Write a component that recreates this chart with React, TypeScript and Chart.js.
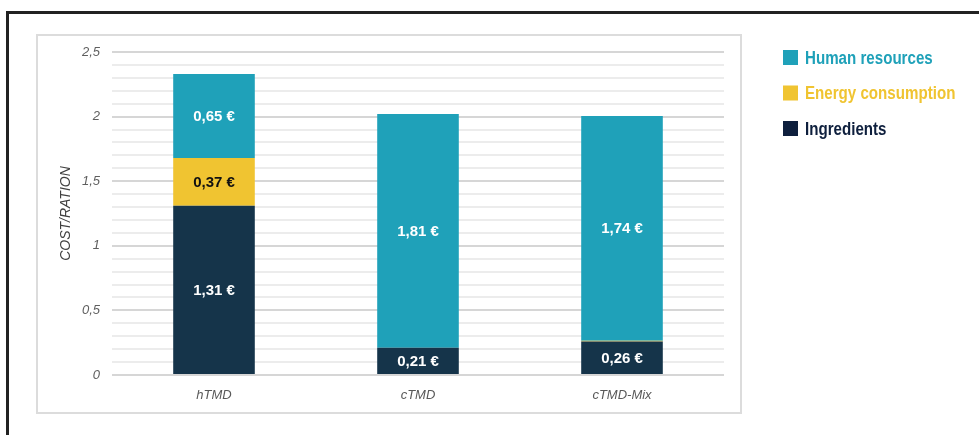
import React, { useEffect, useRef } from "react";
import Chart from "chart.js/auto";

const categories = ["hTMD", "cTMD", "cTMD-Mix"];
const ingredients = [1.31, 0.21, 0.26];
const energyConsumption = [0.37, 0, 0.005];
const humanResources = [0.65, 1.81, 1.74];
const yMajorTicks = [0, 0.5, 1, 1.5, 2, 2.5];
const yAxisTitle = "COST/RATION";

const COLORS = {
  ingredients: "#15344a",
  energy: "#f0c431",
  human: "#1fa1b9",
};

const isMajor = (v: number) => yMajorTicks.some((t) => Math.abs(t - v) < 1e-6);
const fmt = (v: number) => String(v).replace(".", ",");

const valueLabels = {
  id: "valueLabels",
  afterDatasetsDraw(chart: any) {
    const ctx = chart.ctx;
    ctx.save();
    ctx.font = "bold 15px 'Liberation Sans', Arial, sans-serif";
    ctx.textAlign = "center";
    ctx.textBaseline = "middle";
    chart.data.datasets.forEach((ds: any, di: number) => {
      const meta = chart.getDatasetMeta(di);
      meta.data.forEach((el: any, i: number) => {
        const v = ds.data[i];
        if (v < 0.1) return;
        ctx.fillStyle = ds.labelColor || "#fff";
        ctx.fillText(v.toFixed(2).replace(".", ",") + " €", el.x, (el.y + el.base) / 2 + 1);
      });
    });
    ctx.restore();
  },
};

const customLegend = {
  id: "customLegend",
  afterDraw(chart: any) {
    const ctx = chart.ctx;
    ctx.save();
    ctx.font = "bold 18px 'Liberation Sans', Arial, sans-serif";
    ctx.textAlign = "left";
    ctx.textBaseline = "middle";
    const ds = [...chart.data.datasets].reverse();
    ds.forEach((d: any, i: number) => {
      const cy = 58 + i * 35.5;
      ctx.fillStyle = d.legendColor || d.backgroundColor;
      ctx.fillRect(783, cy - 8, 15, 15);
      ctx.save();
      ctx.translate(805, cy + 1);
      ctx.scale(0.84, 1);
      ctx.fillText(d.label, 0, 0);
      ctx.restore();
    });
    ctx.restore();
  },
};

export default function App() {
  const ref = useRef<HTMLCanvasElement>(null);
  useEffect(() => {
    if (!ref.current) return;
    const chart = new Chart(ref.current, {
      type: "bar",
      data: {
        labels: categories,
        datasets: [
          {
            label: "Ingredients",
            data: ingredients,
            backgroundColor: COLORS.ingredients,
            legendColor: "#0e1f3d",
            labelColor: "#ffffff",
          } as any,
          {
            label: "Energy consumption",
            data: energyConsumption,
            backgroundColor: COLORS.energy,
            labelColor: "#111111",
          } as any,
          {
            label: "Human resources",
            data: humanResources,
            backgroundColor: COLORS.human,
            labelColor: "#ffffff",
          } as any,
        ],
      },
      options: {
        animation: false,
        responsive: false,
        maintainAspectRatio: false,
        layout: { padding: { left: 50, right: 255, top: 52, bottom: 25 } },
        datasets: { bar: { categoryPercentage: 1, barPercentage: 0.4, borderWidth: 0 } },
        plugins: { legend: { display: false }, tooltip: { enabled: false } },
        scales: {
          x: {
            stacked: true,
            grid: { display: false },
            border: { display: false },
            ticks: {
              padding: 5,
              color: "#595959",
              font: { family: "'Liberation Sans', Arial, sans-serif", size: 13, style: "italic" },
            },
            afterFit(scale: any) {
              scale.height = 35;
            },
          },
          y: {
            stacked: true,
            min: 0,
            max: 2.5,
            border: { display: false },
            grid: {
              drawTicks: false,
              color: (c: any) => (c.tick && isMajor(c.tick.value) ? "#d6d6d6" : "#ececec"),
              lineWidth: 2,
            },
            ticks: {
              stepSize: 0.1,
              autoSkip: false,
              padding: 12,
              color: "#5f5f5f",
              font: { family: "'Liberation Sans', Arial, sans-serif", size: 13, style: "italic" },
              callback: (v: any) => (isMajor(Number(v)) ? fmt(Number(v)) : ""),
            },
            title: {
              display: true,
              text: yAxisTitle,
              color: "#404040",
              padding: { top: 8, bottom: 0 },
              font: { family: "'Liberation Sans', Arial, sans-serif", size: 14, style: "italic" },
            },
            afterFit(scale: any) {
              scale.width = 62;
            },
          },
        },
      } as any,
      plugins: [valueLabels, customLegend],
    });
    return () => chart.destroy();
  }, []);

  return (
    <div style={{ position: "fixed", left: 0, top: 0, width: 979, height: 435, background: "#fff", overflow: "hidden" }}>
      <div
        style={{
          position: "absolute",
          left: 6,
          top: 11,
          width: 1000,
          height: 500,
          borderLeft: "3px solid #222",
          borderTop: "3px solid #222",
        }}
      />
      <div
        style={{
          position: "absolute",
          left: 36,
          top: 34,
          width: 702,
          height: 376,
          border: "2px solid #dcdcdc",
        }}
      />
      <canvas ref={ref} width={979} height={435} style={{ position: "absolute", left: 0, top: 0 }} />
    </div>
  );
}
